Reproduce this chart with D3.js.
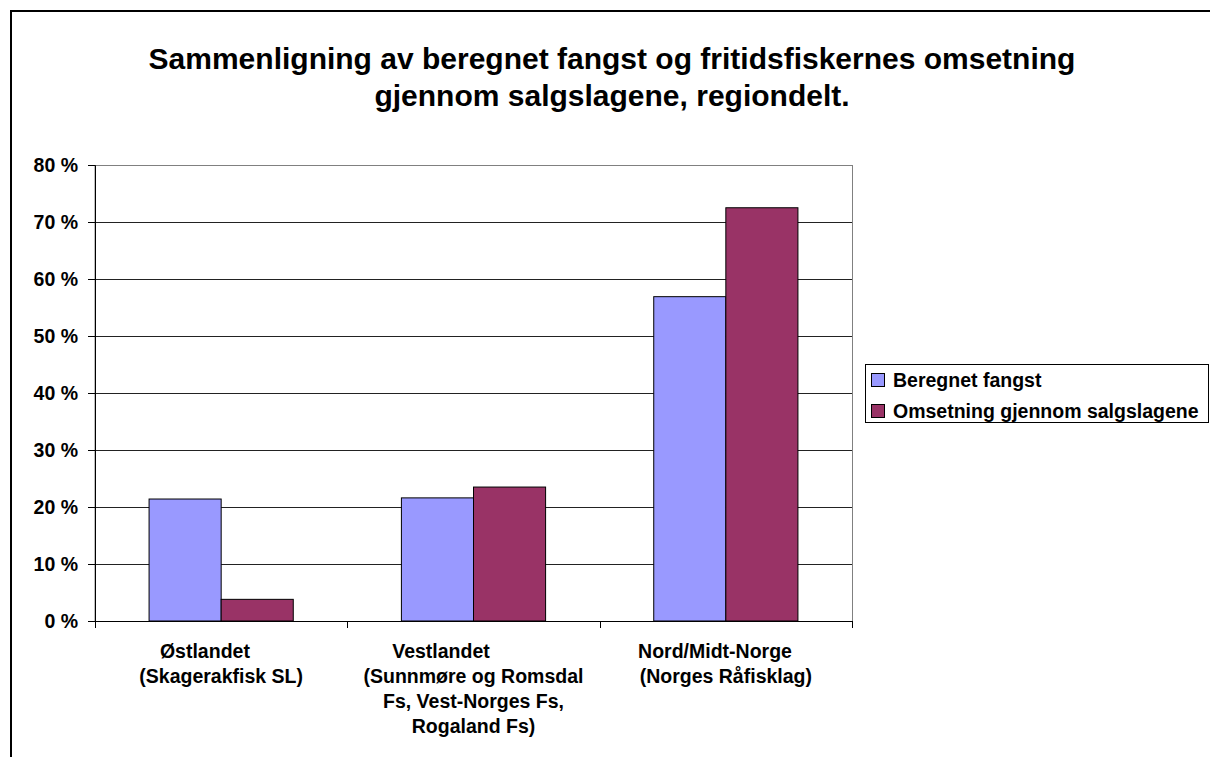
<!DOCTYPE html>
<html>
<head>
<meta charset="utf-8">
<script src="https://cdn.jsdelivr.net/npm/d3@7"></script>
<style>
  body { margin: 0; background: #fff; }
  svg { display: block; font-family: Arial, "Liberation Sans", sans-serif; font-weight: bold; }
  text { white-space: pre; }
</style>
</head>
<body>
<svg id="chart" width="1210" height="757"></svg>
<script>
// data
const nb = n => "\u00a0".repeat(n);
const regions = [
  ["Østlandet" + nb(6), "(Skagerakfisk SL)"],
  ["Vestlandet" + nb(12), "(Sunnmøre og Romsdal", "Fs, Vest-Norges Fs,", "Rogaland Fs)"],
  ["Nord/Midt-Norge" + nb(4), "(Norges Råfisklag)"]
];
const seriesNames = ["Beregnet fangst", "Omsetning gjennom salgslagene"];
const beregnet = [21.4, 21.6, 56.9];
const omsetning = [3.8, 23.5, 72.5];
const yTicks = [0, 10, 20, 30, 40, 50, 60, 70, 80];
const colors = ["#9999FF", "#993366"];

const svg = d3.select("#chart");
const fs = 19.5;

// outer chart border (runs off right/bottom)
svg.append("rect").attr("x", 11).attr("y", 11).attr("width", 1210).attr("height", 760)
  .attr("fill", "none").attr("stroke", "#000").attr("stroke-width", 2);

// title
const title = svg.append("text").attr("text-anchor", "middle").attr("font-size", 30);
title.append("tspan").attr("x", 612).attr("y", 69).text("Sammenligning av beregnet fangst og fritidsfiskernes omsetning");
title.append("tspan").attr("x", 612).attr("y", 106).text("gjennom salgslagene, regiondelt.");

// plot area
const plot = { left: 95, right: 852, top: 165, bottom: 621 };

const x0 = d3.scaleBand().domain(d3.range(regions.length))
  .range([plot.left, plot.right]).paddingInner(0).paddingOuter(0);
// gap width 150% -> group takes 2/(2+1.5) of band
const x1 = d3.scaleBand().domain(d3.range(seriesNames.length))
  .range([0, x0.bandwidth() * 2 / 3.5]);
const y = d3.scaleLinear().domain([0, 80]).range([plot.bottom, plot.top]);

// plot border
svg.append("rect").attr("x", plot.left).attr("y", plot.top + 0.5)
  .attr("width", plot.right - plot.left + 0.5).attr("height", plot.bottom - plot.top)
  .attr("fill", "#fff").attr("stroke", "#808080").attr("stroke-width", 1);

// gridlines
svg.append("g").selectAll("line").data(yTicks.filter(d => d > 0 && d < 80)).join("line")
  .attr("x1", plot.left).attr("x2", plot.right)
  .attr("y1", d => Math.round(y(d)) + 0.5).attr("y2", d => Math.round(y(d)) + 0.5)
  .attr("stroke", "#222").attr("stroke-width", 1);

// bars
const series = [beregnet, omsetning];
const groups = svg.append("g").selectAll("g").data(d3.range(regions.length)).join("g")
  .attr("transform", i => `translate(${x0(i) + (x0.bandwidth() - x1.range()[1]) / 2},0)`);
groups.selectAll("rect").data(i => series.map((s, k) => ({ k, v: s[i] }))).join("rect")
  .attr("x", d => x1(d.k)).attr("width", x1.bandwidth())
  .attr("y", d => y(d.v)).attr("height", d => y(0) - y(d.v))
  .attr("fill", d => colors[d.k]).attr("stroke", "#000").attr("stroke-width", 1);

// y axis
const yAxis = d3.axisLeft(y).tickValues(yTicks).tickSize(7).tickFormat(d => d + " %");
const yg = svg.append("g").attr("transform", `translate(${plot.left},0)`).call(yAxis);
yg.select(".domain").attr("stroke", "#000");
yg.selectAll(".tick line").attr("stroke", "#000");
yg.selectAll(".tick text").attr("font-size", fs).attr("font-weight", "bold")
  .attr("font-family", "Arial, 'Liberation Sans', sans-serif").attr("fill", "#000").attr("x", -17);

// x axis line and ticks between categories
const xg = svg.append("g");
xg.append("line").attr("x1", plot.left).attr("x2", plot.right)
  .attr("y1", plot.bottom + 0.5).attr("y2", plot.bottom + 0.5).attr("stroke", "#000");
xg.selectAll("line.tk").data(d3.range(regions.length + 1)).join("line").attr("class", "tk")
  .attr("x1", i => Math.round(plot.left + i * x0.step()) + 0.5)
  .attr("x2", i => Math.round(plot.left + i * x0.step()) + 0.5)
  .attr("y1", plot.bottom).attr("y2", plot.bottom + 7).attr("stroke", "#000");

// category labels
const labels = svg.append("g").selectAll("text").data(regions).join("text")
  .attr("text-anchor", "middle").attr("font-size", fs)
  .attr("transform", (d, i) => `translate(${x0(i) + x0.bandwidth() / 2},0)`);
labels.selectAll("tspan").data(d => d).join("tspan")
  .attr("x", 0).attr("y", (d, j) => 658 + j * 25).text(d => d);

// legend
const lg = svg.append("g");
lg.append("rect").attr("x", 865.5).attr("y", 364.5).attr("width", 343).attr("height", 58)
  .attr("fill", "#fff").attr("stroke", "#000");
seriesNames.forEach((name, k) => {
  const cy = 380 + k * 31;
  lg.append("rect").attr("x", 871.5).attr("y", cy - 6.5).attr("width", 13).attr("height", 13)
    .attr("fill", colors[k]).attr("stroke", "#000");
  lg.append("text").attr("x", 893).attr("y", cy + 7).attr("font-size", fs).text(name);
});
</script>
</body>
</html>
